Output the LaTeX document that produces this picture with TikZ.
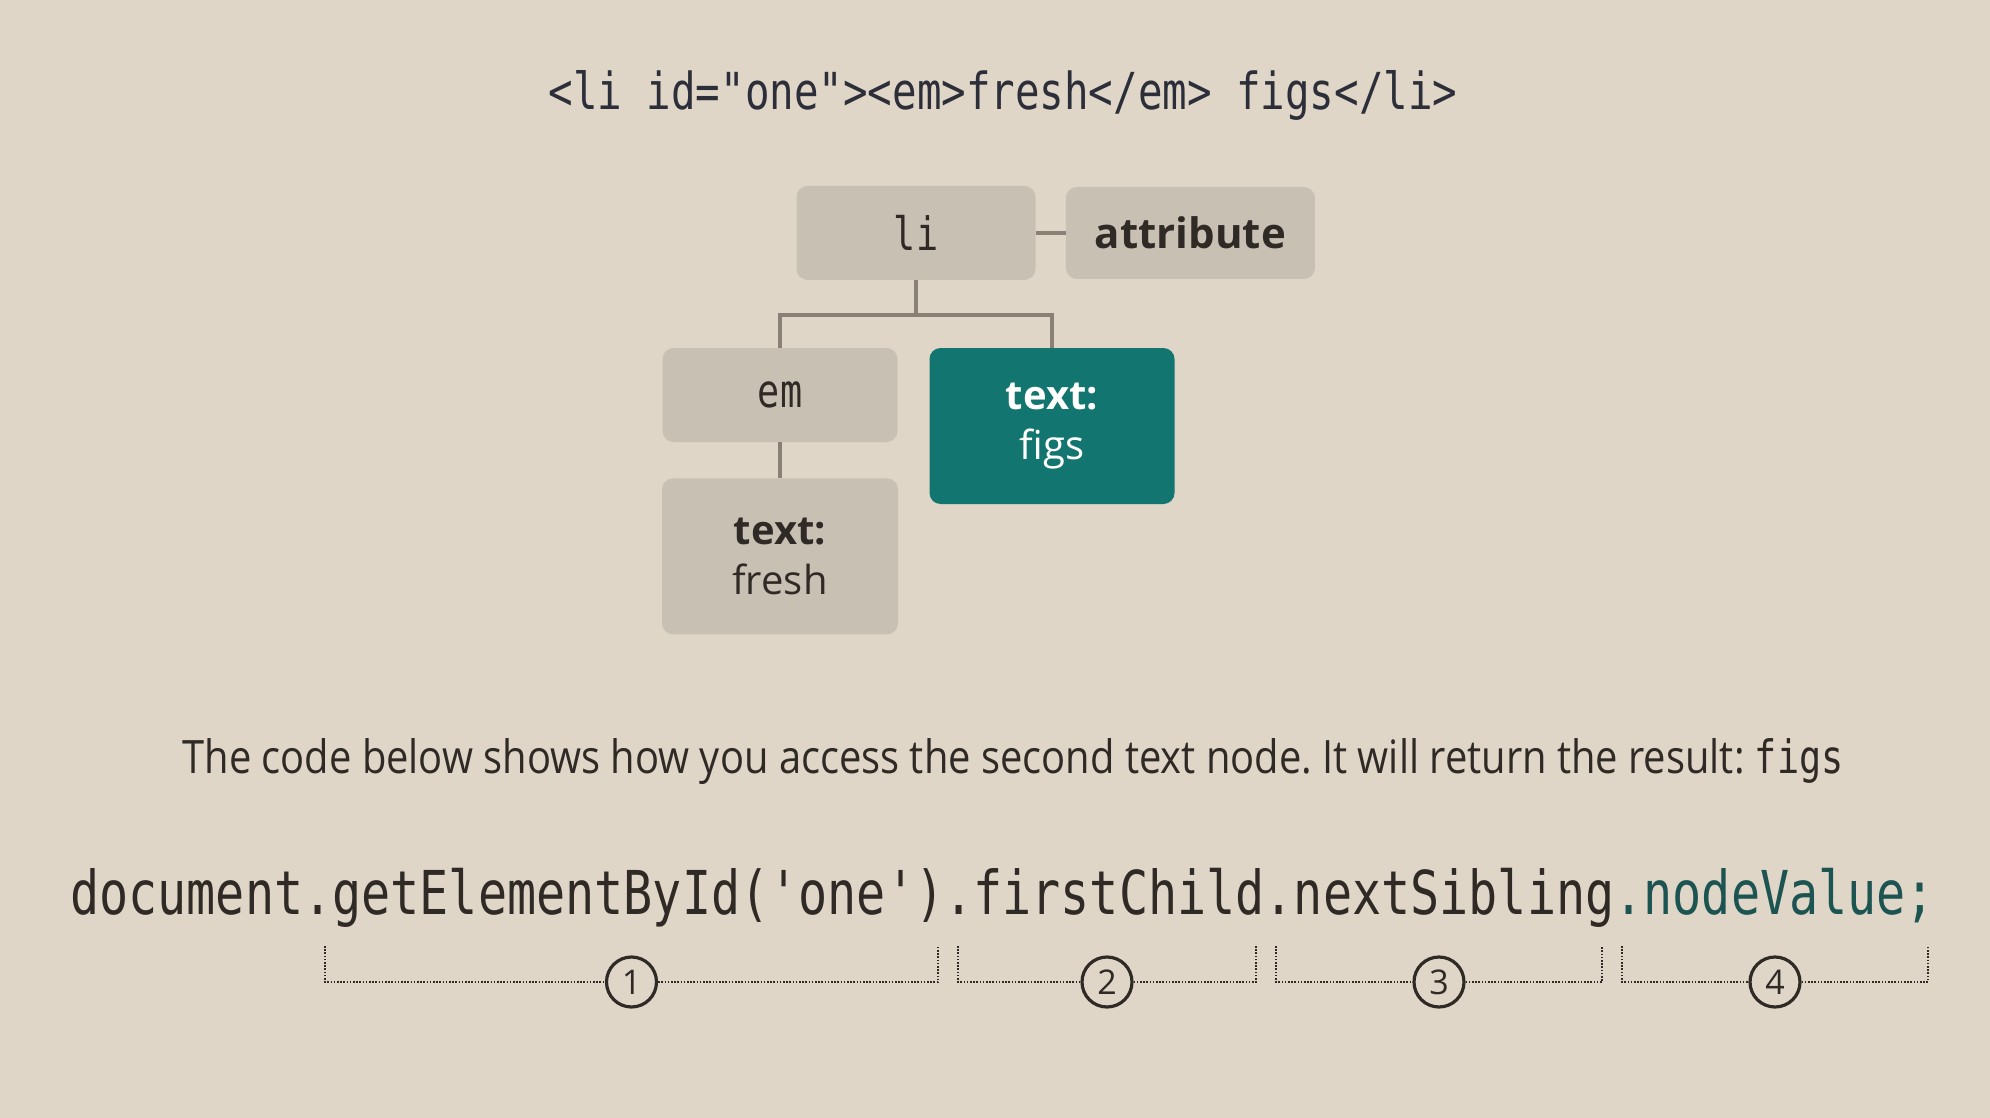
\documentclass[tikz,border=0pt]{standalone}
\usepackage{fontspec}
\setmainfont{Open Sans}
\setmonofont[FakeStretch=0.8]{DejaVu Sans Mono}
\newfontfamily\narrowsans[FakeStretch=0.867]{Open Sans}
\usetikzlibrary{positioning}
\frenchspacing

\definecolor{pagebg}{RGB}{224,214,199}
\definecolor{boxgrey}{RGB}{201,192,180}
\definecolor{branchgrey}{RGB}{138,129,118}
\definecolor{figteal}{RGB}{18,117,111}
\definecolor{ink}{RGB}{48,42,38}
\definecolor{markupink}{RGB}{44,47,58}
\definecolor{valueink}{RGB}{28,84,82}

\tikzset{
  treebox/.style={fill=boxgrey, rounded corners=11pt, inner sep=0pt,
    minimum width=236pt, minimum height=94pt, align=center, text=ink},
  textbox/.style={treebox, minimum height=156pt},
  branch/.style={draw=branchgrey, line width=4pt},
  bracket/.style={draw=ink, line width=2.2pt, dash pattern=on 1.6pt off 1.6pt},
  stepmark/.style={circle, draw=ink, line width=3.2pt, minimum size=50pt,
    inner sep=0pt, fill=pagebg, text=ink, font=\fontsize{34}{34}\selectfont}
}

\begin{document}
\begin{tikzpicture}[x=1pt,y=-1pt]
  \fill[pagebg] (0,0) rectangle (1990,1118);

  % the markup
  \node[anchor=base, text=markupink, font=\ttfamily\fontsize{51}{56}\selectfont]
    (markup) at (1003,110) {<li id="one"><em>fresh</em> figs</li>};

  % the tree
  \node[treebox, minimum width=239pt, font=\ttfamily\fontsize{46}{50}\selectfont]
    (li) at (916,233) {li};
  \node[treebox, minimum width=249pt, minimum height=92pt, right=30pt of li,
    font=\bfseries\fontsize{42}{50}\selectfont] (attr) {attribute};
  \node[treebox, minimum width=235pt, font=\ttfamily\fontsize{46}{50}\selectfont]
    (em) at (780,395) {em};
  \node[textbox, below=36pt of em, font=\fontsize{40}{50}\selectfont]
    (fresh) {\textbf{text:}\\fresh};
  \node[textbox, fill=figteal, text=white, minimum width=245pt,
    font=\fontsize{40}{50}\selectfont] (figs) at (1052,426) {\textbf{text:}\\figs};

  \draw[branch] (li.east) -- (attr.west);
  \draw[branch] (li.south) -- ++(0,35) -| (em.north);
  \draw[branch] (li.south) -- ++(0,35) -| (figs.north);
  \draw[branch] (em.south) -- (fresh.north);

  % the sentence and the call
  \node[anchor=base, text=ink, font=\narrowsans\fontsize{46}{50}\selectfont]
    (note) at (1013,773)
    {The code below shows how you access the second text node. It will return the result: {\ttfamily figs}};
  \node[anchor=base west, inner sep=0pt, text=ink,
    font=\ttfamily\fontsize{60.5}{64}\selectfont] (call) at (70,914)
    {document.getElementById('one').firstChild.nextSibling\textcolor{valueink}{.nodeValue;}};

  % the four steps
  \foreach \n/\a/\b in {1/325/938, 2/958/1256, 3/1276/1602, 4/1622/1928}{
    \coordinate (l\n) at (\a,946);
    \coordinate (r\n) at (\b,946);
    \node[stepmark] (s\n) at ({(\a+\b)/2},982) {\n};
    \draw[bracket] (l\n) |- (s\n.west);
    \draw[bracket] (s\n.east) -| (r\n);
  }
\end{tikzpicture}
\end{document}
